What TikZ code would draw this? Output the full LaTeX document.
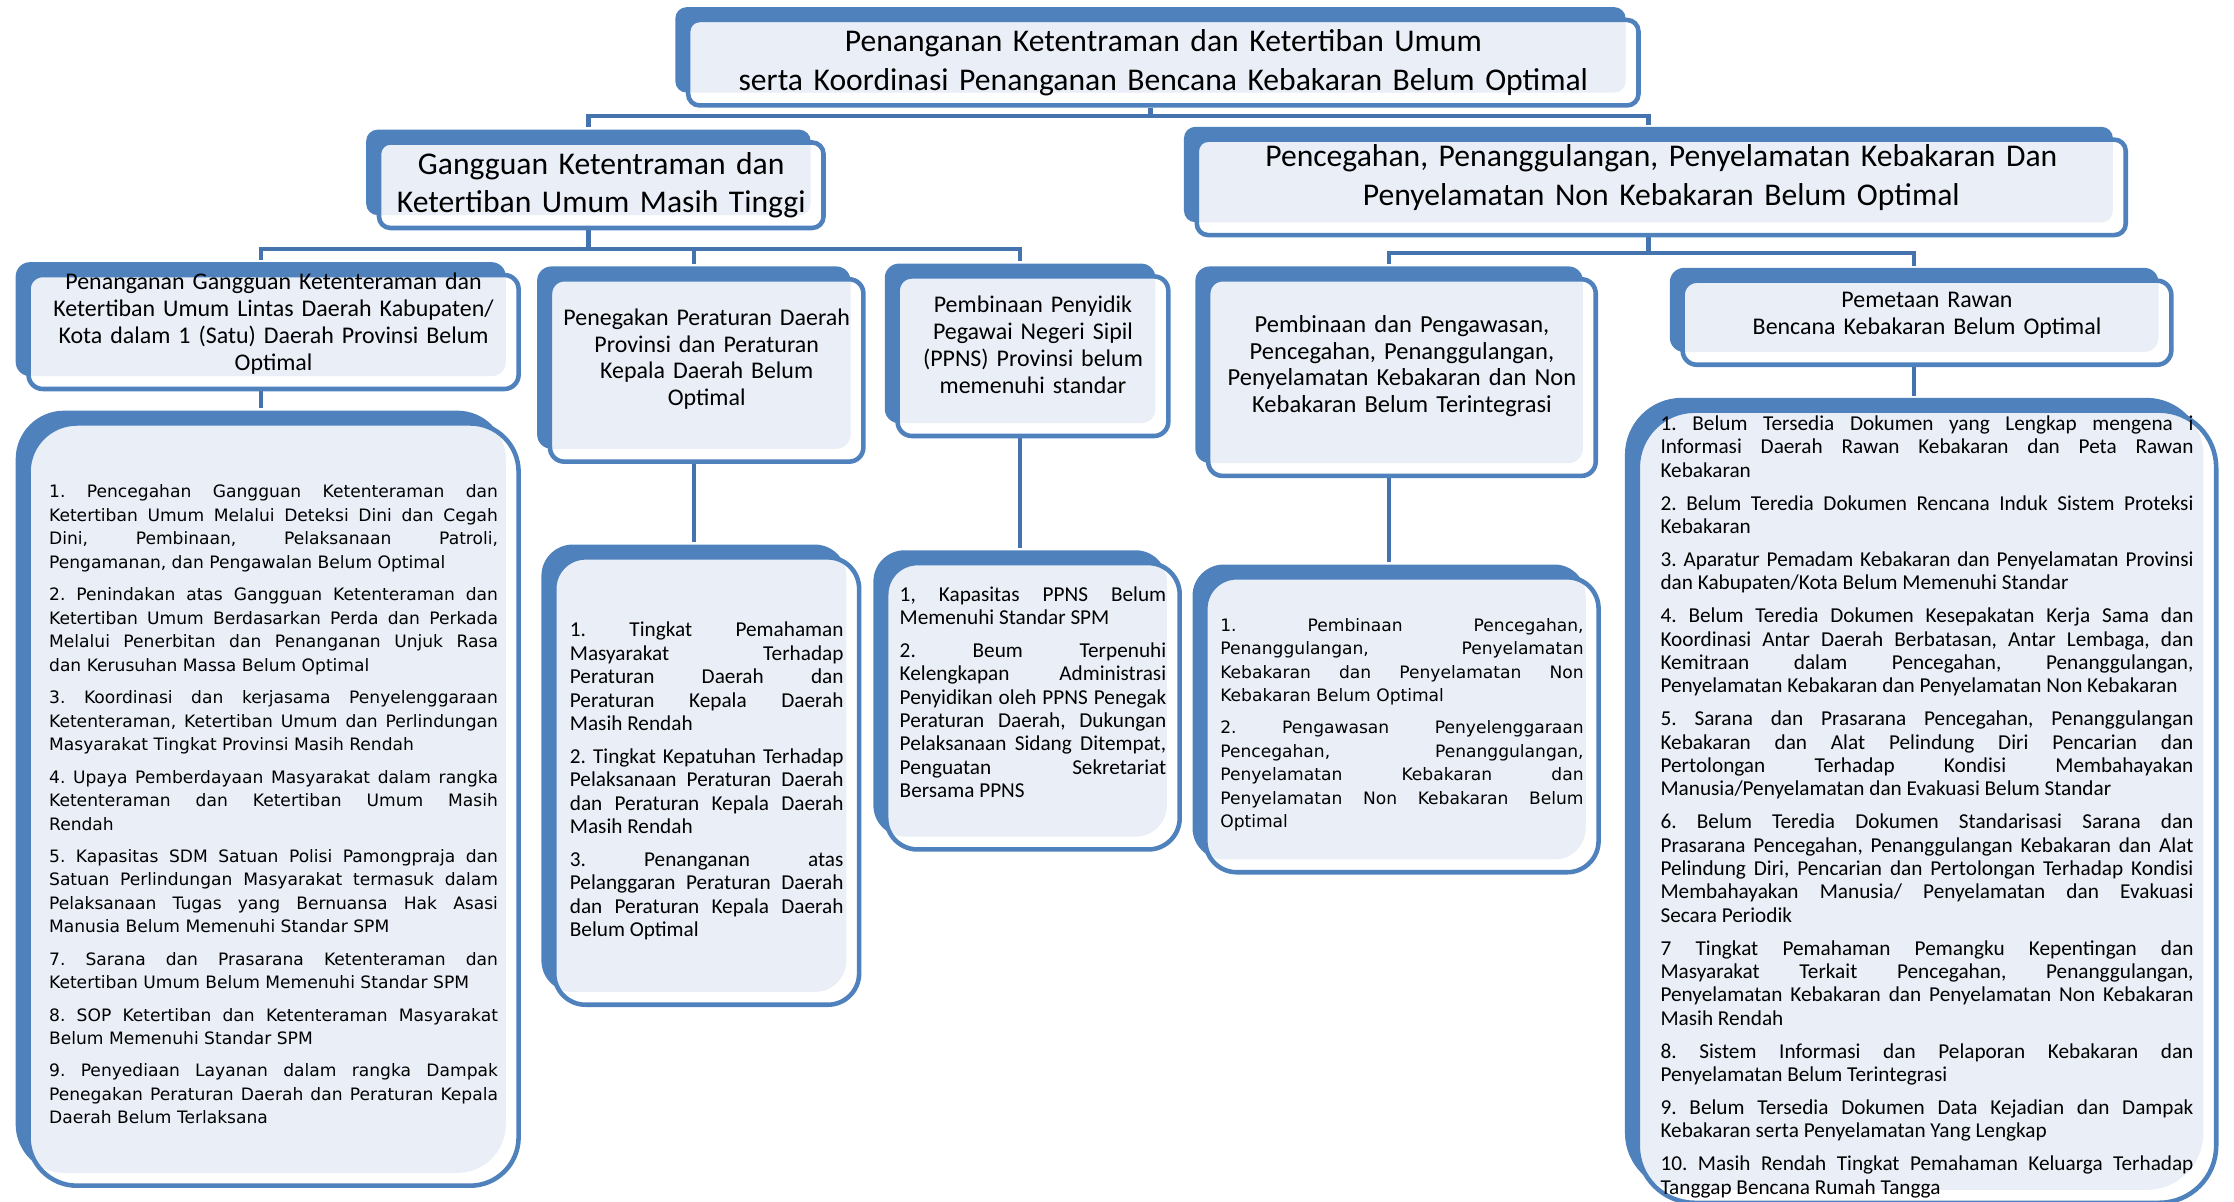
\documentclass[tikz,border=0pt]{standalone}
\usepackage{fontspec}
\setmainfont{Carlito}
\newfontfamily\dejavu{DejaVu Sans}
\frenchspacing
\usetikzlibrary{positioning,shadows,backgrounds}
\definecolor{boxblue}{HTML}{4F81BD}
\definecolor{lightfill}{RGB}{233,238,247}
\definecolor{linkblue}{HTML}{4573AE}
\tikzset{
  panel/.style={draw=boxblue, line width=1.6pt, fill=white, rounded corners=#1, inner sep=0pt,
    general shadow={fill=boxblue, shadow xshift=-4.5pt, shadow yshift=4.5pt},
    path picture={\fill[lightfill, rounded corners=#1]
      ([shift={(-4.5pt,4.5pt)}]path picture bounding box.north west) rectangle
      ([shift={(-4.5pt,4.5pt)}]path picture bounding box.south east);}},
  panel/.default=5pt,
  lift/.style={execute at end node={\par\kern#1}},
  title/.style={panel=4pt, align=center, text width=#1, font=\fontsize{11.1}{13.5}\selectfont,
    execute at begin node={\setlength{\baselineskip}{13.5pt}}},
  head/.style={panel, align=center, text width=#1, font=\fontsize{8.4}{9.4}\selectfont,
    execute at begin node={\setlength{\baselineskip}{9.4pt}}},
  list/.style={panel=#1, align=justify},
  vlist/.style={font=\dejavu\fontsize{6}{8.25}\selectfont,
    execute at begin node={\setlength{\baselineskip}{8.25pt}\setlength{\parskip}{3.1pt}}},
  clist/.style={font=\fontsize{7.45}{8.2}\selectfont,
    execute at begin node={\setlength{\baselineskip}{8.2pt}\setlength{\parskip}{3.35pt}}},
  link/.style={draw=linkblue, line width=1.5pt,
    to path={([xshift=-4.5pt]\tikztostart.south) -- ++(0,#1) -| ([shift={(-4.5pt,4.5pt)}]\tikztotarget.north)}},
  link/.default=6
}
\begin{document}
\begin{tikzpicture}[x=0.5pt, y=-0.5pt]
\useasboundingbox (0,0) rectangle (1568,843);
\node[title=320pt, minimum width=333.5pt, minimum height=30pt] (top) at (816.5,44)
  {Penanganan Ketentraman dan Ketertiban Umum\\ serta Koordinasi Penanganan Bencana Kebakaran Belum Optimal};
\node[title=150pt, minimum width=156pt, minimum height=30pt] (gg) at (422,130)
  {Gangguan Ketentraman dan\\ Ketertiban Umum Masih Tinggi};
\node[title=315pt, minimum width=326pt, minimum height=33.5pt, lift=7pt] (pp) at (1166,131.5)
  {Pencegahan, Penanggulangan, Penyelamatan Kebakaran Dan\\ Penyelamatan Non Kebakaran Belum Optimal};
\node[head=165pt, minimum width=172pt, minimum height=40pt, text height=0pt] (h1) at (192,233)
  {Penanganan Gangguan Ketenteraman dan\\ Ketertiban Umum Lintas Daerah Kabupaten/\\ Kota dalam 1 (Satu) Daerah Provinsi Belum\\ Optimal};
\node[head=106pt, minimum width=110pt, minimum height=64pt, lift=8pt] (h2) at (496,260)
  {Penegakan Peraturan Daerah\\ Provinsi dan Peraturan\\ Kepala Daerah Belum\\ Optimal};
\node[head=90pt, minimum width=95pt, minimum height=56pt, lift=8pt] (h3) at (725,250)
  {Pembinaan Penyidik\\ Pegawai Negeri Sipil\\ (PPNS) Provinsi belum\\ memenuhi standar};
\node[head=132pt, minimum width=136pt, minimum height=69pt, font=\fontsize{8.6}{9.4}\selectfont, lift=8pt] (h4) at (984,265)
  {Pembinaan dan Pengawasan,\\ Pencegahan, Penanggulangan,\\ Penyelamatan Kebakaran dan Non\\ Kebakaran Belum Terintegrasi};
\node[head=165pt, minimum width=171.5pt, minimum height=29.5pt, lift=5pt] (h5) at (1352.5,226.5)
  {Pemetaan Rawan\\ Bencana Kebakaran Belum Optimal};
\node[list=17pt, vlist, text width=157.5pt, minimum width=172pt, minimum height=267.5pt, below=10.5pt of h1] (d1)
  {1. Pencegahan Gangguan Ketenteraman dan\linebreak
   Ketertiban Umum Melalui Deteksi Dini dan Cegah\linebreak
   Dini, Pembinaan, Pelaksanaan Patroli,\linebreak
   Pengamanan, dan Pengawalan Belum Optimal\par
   2. Penindakan atas Gangguan Ketenteraman dan\linebreak
   Ketertiban Umum Berdasarkan Perda dan Perkada\linebreak
   Melalui Penerbitan dan Penanganan Unjuk Rasa\linebreak
   dan Kerusuhan Massa Belum Optimal\par
   3. Koordinasi dan kerjasama Penyelenggaraan\linebreak
   Ketenteraman, Ketertiban Umum dan Perlindungan\linebreak
   Masyarakat Tingkat Provinsi Masih Rendah\par
   4. Upaya Pemberdayaan Masyarakat dalam rangka\linebreak
   Ketenteraman dan Ketertiban Umum Masih\linebreak
   Rendah\par
   5. Kapasitas SDM Satuan Polisi Pamongpraja dan\linebreak
   Satuan Perlindungan Masyarakat termasuk dalam\linebreak
   Pelaksanaan Tugas yang Bernuansa Hak Asasi\linebreak
   Manusia Belum Memenuhi Standar SPM\par
   7. Sarana dan Prasarana Ketenteraman dan\linebreak
   Ketertiban Umum Belum Memenuhi Standar SPM\par
   8. SOP Ketertiban dan Ketenteraman Masyarakat\linebreak
   Belum Memenuhi Standar SPM\par
   9. Penyediaan Layanan dalam rangka Dampak\linebreak
   Penegakan Peraturan Daerah dan Peraturan Kepala\linebreak
   Daerah Belum Terlaksana};
\node[list=11pt, clist, text width=96pt, minimum width=107pt, minimum height=157pt, below=32pt of h2] (d2)
  {1. Tingkat Pemahaman\linebreak Masyarakat Terhadap\linebreak Peraturan Daerah dan\linebreak
   Peraturan Kepala Daerah\linebreak Masih Rendah\par
   2. Tingkat Kepatuhan Terhadap\linebreak Pelaksanaan Peraturan Daerah\linebreak
   dan Peraturan Kepala Daerah\linebreak Masih Rendah\par
   3. Penanganan atas\linebreak Pelanggaran Peraturan Daerah\linebreak
   dan Peraturan Kepala Daerah\linebreak Belum Optimal};
\node[list=11pt, clist, text width=93.5pt, minimum width=103pt, minimum height=100.5pt, below=43pt of h3, lift=10pt] (d3)
  {1, Kapasitas PPNS Belum\linebreak Memenuhi Standar SPM\par
   2. Beum Terpenuhi\linebreak Kelengkapan Administrasi\linebreak Penyidikan oleh PPNS Penegak\linebreak
   Peraturan Daerah, Dukungan\linebreak Pelaksanaan Sidang Ditempat,\linebreak
   Penguatan Sekretariat\linebreak Bersama PPNS};
\node[list=11pt, vlist, text width=127.5pt, minimum width=138pt, minimum height=103.5pt, below=34pt of h4] (d4)
  {1. Pembinaan Pencegahan,\linebreak Penanggulangan, Penyelamatan\linebreak
   Kebakaran dan Penyelamatan Non\linebreak Kebakaran Belum Optimal\par
   2. Pengawasan Penyelenggaraan\linebreak Pencegahan, Penanggulangan,\linebreak
   Penyelamatan Kebakaran dan\linebreak Penyelamatan Non Kebakaran Belum\linebreak Optimal};
\node[list=20pt, clist, text width=187pt, minimum width=203pt, minimum height=278pt, below=14.5pt of h5] (d5)
  {1. Belum Tersedia Dokumen yang Lengkap mengena i\linebreak
   Informasi Daerah Rawan Kebakaran dan Peta Rawan\linebreak Kebakaran\par
   2. Belum Teredia Dokumen Rencana Induk Sistem Proteksi\linebreak Kebakaran\par
   3. Aparatur Pemadam Kebakaran dan Penyelamatan Provinsi\linebreak
   dan Kabupaten/Kota Belum Memenuhi Standar\par
   4. Belum Teredia Dokumen Kesepakatan Kerja Sama dan\linebreak
   Koordinasi Antar Daerah Berbatasan, Antar Lembaga, dan\linebreak
   Kemitraan dalam Pencegahan, Penanggulangan,\linebreak
   Penyelamatan Kebakaran dan Penyelamatan Non Kebakaran\par
   5. Sarana dan Prasarana Pencegahan, Penanggulangan\linebreak
   Kebakaran dan Alat Pelindung Diri Pencarian dan\linebreak
   Pertolongan Terhadap Kondisi Membahayakan\linebreak
   Manusia/Penyelamatan dan Evakuasi Belum Standar\par
   6. Belum Teredia Dokumen Standarisasi Sarana dan\linebreak
   Prasarana Pencegahan, Penanggulangan Kebakaran dan Alat\linebreak
   Pelindung Diri, Pencarian dan Pertolongan Terhadap Kondisi\linebreak
   Membahayakan Manusia/ Penyelamatan dan Evakuasi\linebreak
   Secara Periodik\par
   7 Tingkat Pemahaman Pemangku Kepentingan dan\linebreak
   Masyarakat Terkait Pencegahan, Penanggulangan,\linebreak
   Penyelamatan Kebakaran dan Penyelamatan Non Kebakaran\linebreak
   Masih Rendah\par
   8. Sistem Informasi dan Pelaporan Kebakaran dan\linebreak
   Penyelamatan Belum Terintegrasi\par
   9. Belum Tersedia Dokumen Data Kejadian dan Dampak\linebreak
   Kebakaran serta Penyelamatan Yang Lengkap\par
   10. Masih Rendah Tingkat Pemahaman Keluarga Terhadap\linebreak
   Tanggap Bencana Rumah Tangga};
\begin{scope}[on background layer]
\path (top) edge[link=6] (gg) edge[link=6] (pp)
  (gg) edge[link=13] (h1) edge[link=13] (h2) edge[link=13] (h3)
  (pp) edge[link=11] (h4) edge[link=11] (h5)
  (h1) edge[link] (d1) (h2) edge[link] (d2) (h3) edge[link] (d3)
  (h4) edge[link] (d4) (h5) edge[link] (d5);
\end{scope}
\end{tikzpicture}
\end{document}
